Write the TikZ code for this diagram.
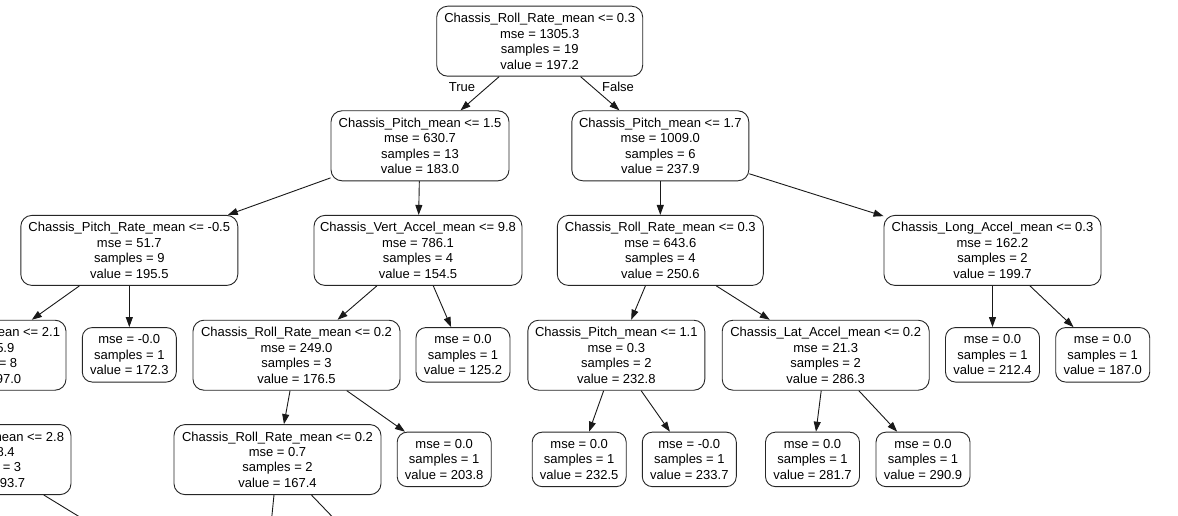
\documentclass[tikz,border=0pt]{standalone}
\usepackage{fontspec}
\setmainfont{Liberation Sans}
\usetikzlibrary{arrows.meta}
\begin{document}
\begin{tikzpicture}[x=1pt,y=-1pt,
  tn/.style={draw=black!85, rounded corners=11pt, align=center, inner sep=0pt,
    minimum height=70pt, font=\fontsize{13}{15.5}\selectfont, line width=0.9pt},
  lf/.style={tn, minimum height=54.5pt, minimum width=94pt, rounded corners=10pt},
  ed/.style={-{Triangle[length=10pt,width=7pt]}, line width=0.9pt, draw=black!90},
  el/.style={font=\fontsize{13}{15.5}\selectfont, inner sep=0pt}]
\useasboundingbox (0,0) rectangle (1178,516);
\fill[white] (0,0) rectangle (1178,516);
\clip (0,0) rectangle (1178,516);

% level 0
\node[tn,minimum width=206pt] (n0) at (539.7,41.2) {Chassis\_Roll\_Rate\_mean <= 0.3\\mse = 1305.3\\samples = 19\\value = 197.2};
% level 1
\node[tn,minimum width=178pt] (n1) at (420,145.8) {Chassis\_Pitch\_mean <= 1.5\\mse = 630.7\\samples = 13\\value = 183.0};
\node[tn,minimum width=177pt] (n2) at (660.3,145.8) {Chassis\_Pitch\_mean <= 1.7\\mse = 1009.0\\samples = 6\\value = 237.9};
% level 2
\node[tn,minimum width=217pt] (n3) at (129.3,250.4) {Chassis\_Pitch\_Rate\_mean <= -0.5\\mse = 51.7\\samples = 9\\value = 195.5};
\node[tn,minimum width=208pt] (n4) at (418,250.4) {Chassis\_Vert\_Accel\_mean <= 9.8\\mse = 786.1\\samples = 4\\value = 154.5};
\node[tn,minimum width=206pt] (n5) at (660.3,250.4) {Chassis\_Roll\_Rate\_mean <= 0.3\\mse = 643.6\\samples = 4\\value = 250.6};
\node[tn,minimum width=217pt] (n6) at (992.5,250.4) {Chassis\_Long\_Accel\_mean <= 0.3\\mse = 162.2\\samples = 2\\value = 199.7};
% level 3
\node[tn,minimum width=168pt] (n7) at (-18,355.2) {Chassis\_Roll\_mean <= 2.1\\mse = 25.9\\samples = 8\\value = 197.0};
\node[lf] (n8) at (129.3,354.8) {mse = -0.0\\samples = 1\\value = 172.3};
\node[tn,minimum width=207pt] (n9) at (296.5,355.2) {Chassis\_Roll\_Rate\_mean <= 0.2\\mse = 249.0\\samples = 3\\value = 176.5};
\node[lf] (n10) at (463,354.8) {mse = 0.0\\samples = 1\\value = 125.2};
\node[tn,minimum width=177pt] (n11) at (616.3,355.2) {Chassis\_Pitch\_mean <= 1.1\\mse = 0.3\\samples = 2\\value = 232.8};
\node[tn,minimum width=207pt] (n12) at (825.7,355.2) {Chassis\_Lat\_Accel\_mean <= 0.2\\mse = 21.3\\samples = 2\\value = 286.3};
\node[lf] (n13) at (992.5,354.8) {mse = 0.0\\samples = 1\\value = 212.4};
\node[lf] (n14) at (1102.7,354.8) {mse = 0.0\\samples = 1\\value = 187.0};
% level 4
\node[tn,minimum width=170pt] (n15) at (-14,459.6) {Chassis\_Roll\_mean <= 2.8\\mse = 8.4\\samples = 3\\value = 193.7};
\node[tn,minimum width=207pt] (n16) at (277.5,459.6) {Chassis\_Roll\_Rate\_mean <= 0.2\\mse = 0.7\\samples = 2\\value = 167.4};
\node[lf] (n17) at (444.2,459.4) {mse = 0.0\\samples = 1\\value = 203.8};
\node[lf] (n18) at (579.2,459.4) {mse = 0.0\\samples = 1\\value = 232.5};
\node[lf] (n19) at (689.3,459.4) {mse = -0.0\\samples = 1\\value = 233.7};
\node[lf] (n20) at (812.5,459.4) {mse = 0.0\\samples = 1\\value = 281.7};
\node[lf] (n21) at (923,459.4) {mse = 0.0\\samples = 1\\value = 290.9};

% off-picture ends
\coordinate (o1) at (101,530);
\coordinate (o2) at (270.5,530);
\coordinate (o3) at (345,530);

% edges
\draw[ed] (n0) -- (n1);
\draw[ed] (n0) -- (n2);
\node[el] (lt) at (462,87) {True};
\node[el] (lf) at (618,87) {False};
\draw[ed] (n1) -- (n3);
\draw[ed] (n1) -- (n4);
\draw[ed] (n2) -- (n5);
\draw[ed] (n2) -- (n6);
\draw[ed] (n3) -- (n7);
\draw[ed] (n3) -- (n8);
\draw[ed] (n4) -- (n9);
\draw[ed] (n4) -- (n10);
\draw[ed] (n5) -- (n11);
\draw[ed] (n5) -- (n12);
\draw[ed] (n6) -- (n13);
\draw[ed] (n6) -- (n14);
\draw[ed] (n7) -- (n15);
\draw[ed] (n9) -- (n16);
\draw[ed] (n9) -- (n17);
\draw[ed] (n11) -- (n18);
\draw[ed] (n11) -- (n19);
\draw[ed] (n12) -- (n20);
\draw[ed] (n12) -- (n21);
\draw[ed] (n15) -- (o1);
\draw[ed] (n16) -- (o2);
\draw[ed] (n16) -- (o3);
\end{tikzpicture}
\end{document}
